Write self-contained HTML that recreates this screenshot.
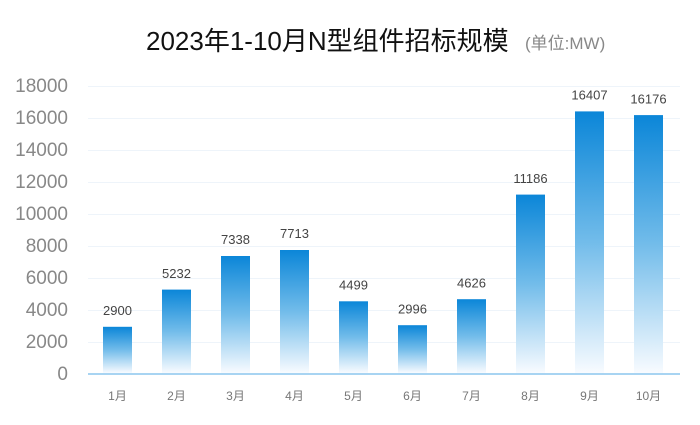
<!DOCTYPE html>
<html><head><meta charset="utf-8"><style>
body{margin:0;background:#fff}
svg text{font-family:"Liberation Sans","Noto Sans CJK SC",sans-serif}
</style></head><body>
<svg width="700" height="420" xmlns="http://www.w3.org/2000/svg">
<defs><linearGradient id="g" x1="0" y1="0" x2="0" y2="1">
<stop offset="0" stop-color="#0b86d8"/><stop offset="0.5" stop-color="#72bcea"/><stop offset="1" stop-color="#f8fbff"/></linearGradient></defs>
<rect width="700" height="420" fill="#fff"/>
<text x="146" y="50" font-size="26" fill="#111">2023年1-10月N型组件招标规模</text>
<text x="525" y="49" font-size="17" fill="#888">(单位:MW)</text>
<g stroke="#eef4fa" stroke-width="1">
<line x1="88" x2="680" y1="86.5" y2="86.5"/><line x1="88" x2="680" y1="118.5" y2="118.5"/>
<line x1="88" x2="680" y1="150.5" y2="150.5"/><line x1="88" x2="680" y1="182.5" y2="182.5"/>
<line x1="88" x2="680" y1="214.5" y2="214.5"/><line x1="88" x2="680" y1="246.5" y2="246.5"/>
<line x1="88" x2="680" y1="278.5" y2="278.5"/><line x1="88" x2="680" y1="310.5" y2="310.5"/>
<line x1="88" x2="680" y1="342.5" y2="342.5"/></g>
<g font-size="19" fill="#888" text-anchor="end">
<text x="68" y="380">0</text><text x="68" y="348">2000</text><text x="68" y="316">4000</text>
<text x="68" y="284">6000</text><text x="68" y="252">8000</text><text x="68" y="220">10000</text>
<text x="68" y="188">12000</text><text x="68" y="156">14000</text><text x="68" y="124">16000</text>
<text x="68" y="92">18000</text></g>
<g fill="url(#g)">
<rect x="103" y="326.8" width="29" height="46.2"/>
<rect x="162" y="289.6" width="29" height="83.4"/>
<rect x="221" y="256" width="29" height="117"/>
<rect x="280" y="250" width="29" height="123"/>
<rect x="339" y="301.3" width="29" height="71.7"/>
<rect x="398" y="325.2" width="29" height="47.8"/>
<rect x="457" y="299.2" width="29" height="73.8"/>
<rect x="516" y="194.6" width="29" height="178.4"/>
<rect x="575" y="111.4" width="29" height="261.6"/>
<rect x="634" y="115.1" width="29" height="257.9"/>
</g>
<g font-size="13" fill="#444" text-anchor="middle">
<text x="117.5" y="315">2900</text>
<text x="176.5" y="278">5232</text>
<text x="235.5" y="244">7338</text>
<text x="294.5" y="238">7713</text>
<text x="353.5" y="289.5">4499</text>
<text x="412.5" y="313.5">2996</text>
<text x="471.5" y="287.5">4626</text>
<text x="530.5" y="183">11186</text>
<text x="589.5" y="99.5">16407</text>
<text x="648.5" y="103.5">16176</text>
</g>
<g font-size="12" fill="#777" text-anchor="middle">
<text x="117.5" y="400">1月</text><text x="176.5" y="400">2月</text><text x="235.5" y="400">3月</text>
<text x="294.5" y="400">4月</text><text x="353.5" y="400">5月</text><text x="412.5" y="400">6月</text>
<text x="471.5" y="400">7月</text><text x="530.5" y="400">8月</text><text x="589.5" y="400">9月</text>
<text x="648.5" y="400">10月</text></g>
<line x1="88" x2="680" y1="374" y2="374" stroke="#a8d4f2" stroke-width="2"/>
</svg>
</body></html>
